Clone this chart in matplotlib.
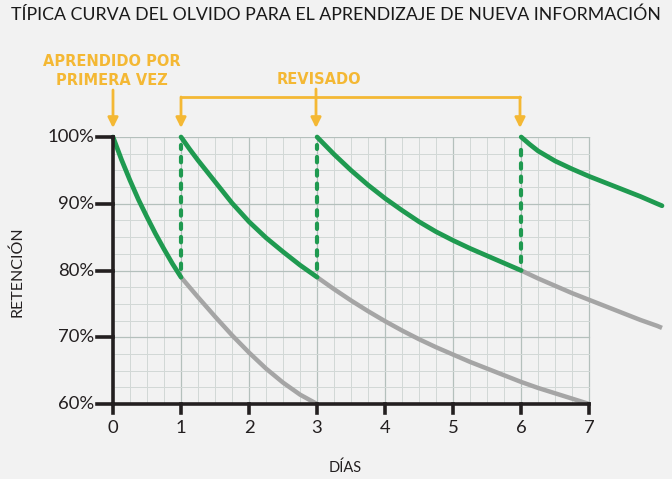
import matplotlib
matplotlib.use("Agg")
import matplotlib.pyplot as plt
from matplotlib.patches import FancyArrowPatch
from matplotlib.lines import Line2D

# values (days, % retention)
curve1_green_x = [0, 0.125, 0.25, 0.375, 0.5, 0.625, 0.75, 0.875, 1]
curve1_green_y = [100, 96.6, 93.5, 90.6, 88, 85.5, 83.2, 81.0, 79]
curve1_gray_x = [1, 1.25, 1.5, 1.75, 2, 2.25, 2.5, 2.75, 3]
curve1_gray_y = [79, 76, 73.1, 70.3, 67.7, 65.3, 63.2, 61.4, 60]

curve2_green_x = [1, 1.125, 1.25, 1.5, 1.75, 2, 2.25, 2.5, 2.75, 3]
curve2_green_y = [100, 98.2, 96.5, 93.3, 90.1, 87.3, 84.9, 82.8, 80.8, 79]
curve2_gray_x = [3, 3.25, 3.5, 3.75, 4, 4.25, 4.5, 4.75, 5, 5.25, 5.5,
                 5.75, 6, 6.25, 6.5, 6.75, 7]
curve2_gray_y = [79, 77.2, 75.5, 73.9, 72.4, 71.0, 69.7, 68.5, 67.4, 66.3, 65.3,
                 64.3, 63.3, 62.4, 61.6, 60.8, 60]

curve3_green_x = [3, 3.125, 3.25, 3.5, 3.75, 4, 4.25, 4.5, 4.75, 5, 5.25, 5.5, 5.75, 6]
curve3_green_y = [100, 98.7, 97.4, 95, 92.8, 90.8, 89, 87.3, 85.8, 84.5, 83.3, 82.2, 81.1, 80]
curve3_gray_x = [6, 6.25, 6.5, 6.75, 7, 7.25, 7.5, 7.75, 8.0, 8.07]
curve3_gray_y = [80, 78.8, 77.7, 76.6, 75.6, 74.6, 73.6, 72.6, 71.7, 71.4]

curve4_green_x = [6, 6.125, 6.25, 6.5, 6.75, 7, 7.25, 7.5, 7.75, 8.0, 8.07]
curve4_green_y = [100, 98.9, 97.9, 96.4, 95.2, 94.1, 93.1, 92.1, 91.1, 90.0, 89.7]

review_days = [1, 3, 6]
review_low = [79, 79, 80]

x_ticks = [0, 1, 2, 3, 4, 5, 6, 7]
y_ticks = [60, 70, 80, 90, 100]
y_labels = ['60%', '70%', '80%', '90%', '100%']

W, H = 672, 479
BG = '#f2f2f2'
GREEN = '#1f9a50'
GRAY = '#a5a5a5'
GOLD = '#f4b834'
INK = '#231f20'

plt.rcParams['font.family'] = ['Lato', 'DejaVu Sans']

fig = plt.figure(figsize=(W / 100, H / 100), dpi=100, facecolor=BG)
ax = fig.add_axes([113 / W, 1 - 404 / H, (662 - 113) / W, (404 - 137) / H])
ax.set_facecolor(BG)
ax.set_xlim(0, 8.07)
ax.set_ylim(60, 100)
for s in ax.spines.values():
    s.set_visible(False)
ax.set_xticks([])
ax.set_yticks([])


def px(x, y):
    return (x / W, 1 - y / H)


# grid limited to 0..7 days
for i in range(29):
    d = i * 0.25
    major = (i % 4 == 0)
    ax.plot([d, d], [60, 100], color='#b4c0bc' if major else '#d2d8d6',
            lw=0.9 if major else 0.7, zorder=1)
for i in range(17):
    v = 60 + i * 2.5
    major = (i % 4 == 0)
    ax.plot([0, 7], [v, v], color='#b4c0bc' if major else '#d2d8d6',
            lw=0.9 if major else 0.7, zorder=1)

# gray (no review) parts
for xs, ys in [(curve1_gray_x, curve1_gray_y), (curve2_gray_x, curve2_gray_y),
               (curve3_gray_x, curve3_gray_y)]:
    ax.plot(xs, ys, color=GRAY, lw=3.2, solid_capstyle='butt',
            solid_joinstyle='round', zorder=3, clip_on=False)

# green (after learning / review) parts
for xs, ys in [(curve1_green_x, curve1_green_y), (curve2_green_x, curve2_green_y),
               (curve3_green_x, curve3_green_y), (curve4_green_x, curve4_green_y)]:
    ax.plot(xs, ys, color=GREEN, lw=3.4, solid_capstyle='round',
            solid_joinstyle='round', zorder=4, clip_on=False)

# dashed jump at each review
for d, lo in zip(review_days, review_low):
    ax.plot([d, d], [lo + 1.2, 98.8], color=GREEN, lw=3.0, ls=(0, (1.3, 1.9)),
            dash_capstyle='round', zorder=4)

# axes lines and ticks
ax.plot([0, 7], [60, 60], color=INK, lw=2.6, solid_capstyle='projecting', zorder=5, clip_on=False)
ax.plot([0, 0], [60, 100], color=INK, lw=2.6, solid_capstyle='projecting', zorder=5, clip_on=False)
for v, lab in zip(y_ticks, y_labels):
    ax.plot([-0.24, 0], [v, v], color=INK, lw=2.6, zorder=5, clip_on=False)
    ax.text(-0.27, v, lab, ha='right', va='center', fontsize=13.3, color=INK)
for d in x_ticks:
    ax.plot([d, d], [60, 58.6], color=INK, lw=2.6, zorder=5, clip_on=False)
    ax.text(d, 57.6, str(d), ha='center', va='top', fontsize=13.3, color=INK)

fig.text(*px(17, 272), 'RETENCIÓN', rotation=90, ha='center', va='center',
         fontsize=11.5, color=INK)
fig.text(*px(345, 468), 'DÍAS', ha='center', va='center', fontsize=10.5, color=INK)

fig.text(*px(336, 15), 'TÍPICA CURVA DEL OLVIDO PARA EL APRENDIZAJE DE NUEVA INFORMACIÓN',
         ha='center', va='center', fontsize=12.8, color='#1a1a1a')

# annotations
fig.text(*px(112, 71), 'APRENDIDO POR\nPRIMERA VEZ', ha='center', va='center',
         fontsize=10.5, fontweight='bold', color=GOLD, linespacing=1.3,
         family='DejaVu Sans')
fig.text(*px(319, 80), 'REVISADO', ha='center', va='center',
         fontsize=10.5, fontweight='bold', color=GOLD, family='DejaVu Sans')

arrow = dict(arrowstyle='-|>', color=GOLD, lw=2, mutation_scale=15, shrinkA=0, shrinkB=0)
for x0, y0 in [(113, 90), (181, 97), (316, 89), (520, 97)]:
    fig.add_artist(FancyArrowPatch(px(x0, y0), px(x0, 128),
                                   transform=fig.transFigure, **arrow))
fig.add_artist(Line2D([181 / W, 520 / W], [1 - 97 / H, 1 - 97 / H],
                      color=GOLD, lw=2, transform=fig.transFigure,
                      solid_capstyle='round'))

fig.savefig('out.png', dpi=100, facecolor=BG)
